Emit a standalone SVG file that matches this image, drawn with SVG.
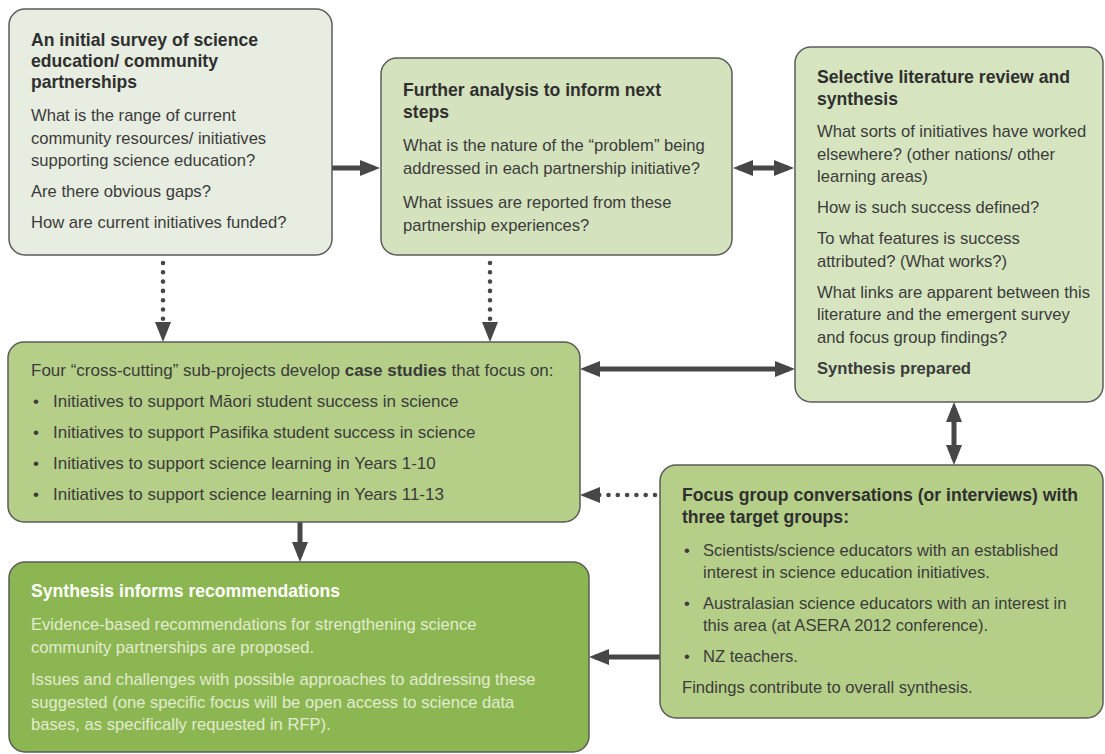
<svg xmlns="http://www.w3.org/2000/svg" width="1105" height="754" viewBox="0 0 1105 754">
<style>
.box{stroke:#5b5b5b;stroke-width:1.5}
.t{font-family:"Liberation Sans",Arial,sans-serif;font-weight:bold;font-size:19px;fill:#2f2f2f}
.b{font-family:"Liberation Sans",Arial,sans-serif;font-size:16.6px;fill:#3b3b3b}
.bb{font-weight:bold}
.w{fill:#ffffff}
.wb{fill:#e2ecd0}
.sh{stroke:#474747;stroke-width:5;fill:none}
.dt{stroke:#474747;stroke-width:4.6;stroke-linecap:round;stroke-dasharray:0 9.3;fill:none}
</style>
<defs>
<marker id="ah" viewBox="0 0 20 16" markerWidth="20" markerHeight="16" refX="14" refY="8" markerUnits="userSpaceOnUse" orient="auto-start-reverse">
<path d="M0,0 L20,8 L0,16 z" fill="#474747"/>
</marker>
</defs>
<rect width="1105" height="754" fill="#ffffff"/>

<g id="connectors">
<line class="sh" x1="332" y1="168" x2="374" y2="168" marker-end="url(#ah)"/>
<line class="sh" x1="739" y1="168" x2="788" y2="168" marker-start="url(#ah)" marker-end="url(#ah)"/>
<line class="dt" x1="163" y1="263" x2="163" y2="336" marker-end="url(#ah)"/>
<line class="dt" x1="490" y1="263" x2="490" y2="336" marker-end="url(#ah)"/>
<line class="sh" x1="586" y1="369" x2="789" y2="369" marker-start="url(#ah)" marker-end="url(#ah)"/>
<line class="sh" x1="954" y1="408" x2="954" y2="459" marker-start="url(#ah)" marker-end="url(#ah)"/>
<line class="sh" x1="300" y1="522" x2="300" y2="556" marker-end="url(#ah)"/>
<line class="dt" x1="655" y1="495" x2="586" y2="495" marker-end="url(#ah)"/>
<line class="sh" x1="660" y1="657" x2="595" y2="657" marker-end="url(#ah)"/>
</g>

<g id="node-survey">
<rect class="box" x="9" y="9" width="323" height="246" rx="16" fill="#e7ede0"/>
<text class="t" x="31" y="46" textLength="227" lengthAdjust="spacingAndGlyphs">An initial survey of science</text>
<text class="t" x="31" y="67" textLength="187" lengthAdjust="spacingAndGlyphs">education/ community</text>
<text class="t" x="31" y="88" textLength="106" lengthAdjust="spacingAndGlyphs">partnerships</text>
<text class="b" x="31" y="121">What is the range of current</text>
<text class="b" x="31" y="143.5">community resources/ initiatives</text>
<text class="b" x="31" y="166">supporting science education?</text>
<text class="b" x="31" y="197">Are there obvious gaps?</text>
<text class="b" x="31" y="228">How are current initiatives funded?</text>
</g>

<g id="node-analysis">
<rect class="box" x="381" y="58" width="351" height="197" rx="16" fill="#d4e2bd"/>
<text class="t" x="403" y="96" textLength="258" lengthAdjust="spacingAndGlyphs">Further analysis to inform next</text>
<text class="t" x="403" y="118" textLength="46" lengthAdjust="spacingAndGlyphs">steps</text>
<text class="b" x="403" y="151">What is the nature of the “problem” being</text>
<text class="b" x="403" y="173.5">addressed in each partnership initiative?</text>
<text class="b" x="403" y="208">What issues are reported from these</text>
<text class="b" x="403" y="230.5">partnership experiences?</text>
</g>

<g id="node-literature">
<rect class="box" x="795" y="47" width="308" height="355" rx="16" fill="#d6e5c0"/>
<text class="t" x="817" y="83" textLength="253" lengthAdjust="spacingAndGlyphs">Selective literature review and</text>
<text class="t" x="817" y="105" textLength="81" lengthAdjust="spacingAndGlyphs">synthesis</text>
<text class="b" x="817" y="137">What sorts of initiatives have worked</text>
<text class="b" x="817" y="159.5">elsewhere? (other nations/ other</text>
<text class="b" x="817" y="182">learning areas)</text>
<text class="b" x="817" y="213">How is such success defined?</text>
<text class="b" x="817" y="244">To what features is success</text>
<text class="b" x="817" y="266.5">attributed? (What works?)</text>
<text class="b" x="817" y="297.5">What links are apparent between this</text>
<text class="b" x="817" y="320">literature and the emergent survey</text>
<text class="b" x="817" y="342.5">and focus group findings?</text>
<text class="b bb" x="817" y="374">Synthesis prepared</text>
</g>

<g id="node-case-studies">
<rect class="box" x="8" y="342" width="572" height="180" rx="16" fill="#b5cf88"/>
<text class="b" x="31" y="376" style="font-size:17px">Four “cross-cutting” sub-projects develop <tspan class="bb">case studies</tspan> that focus on:</text>
<text class="b" x="33" y="407" style="font-size:17px">•</text>
<text class="b" x="53" y="407" style="font-size:17px">Initiatives to support Māori student success in science</text>
<text class="b" x="33" y="438" style="font-size:17px">•</text>
<text class="b" x="53" y="438" style="font-size:17px">Initiatives to support Pasifika student success in science</text>
<text class="b" x="33" y="469" style="font-size:17px">•</text>
<text class="b" x="53" y="469" style="font-size:17px">Initiatives to support science learning in Years 1-10</text>
<text class="b" x="33" y="500" style="font-size:17px">•</text>
<text class="b" x="53" y="500" style="font-size:17px">Initiatives to support science learning in Years 11-13</text>
</g>

<g id="node-focus-groups">
<rect class="box" x="660" y="465" width="443" height="253" rx="16" fill="#b5cf88"/>
<text class="t" x="682" y="501" style="font-size:18px" textLength="396" lengthAdjust="spacingAndGlyphs">Focus group conversations (or interviews) with</text>
<text class="t" x="682" y="523" textLength="167" lengthAdjust="spacingAndGlyphs">three target groups:</text>
<text class="b" x="684" y="556">•</text>
<text class="b" x="703" y="556">Scientists/science educators with an established</text>
<text class="b" x="703" y="578">interest in science education initiatives.</text>
<text class="b" x="684" y="609">•</text>
<text class="b" x="703" y="609">Australasian science educators with an interest in</text>
<text class="b" x="703" y="631">this area (at ASERA 2012 conference).</text>
<text class="b" x="684" y="662">•</text>
<text class="b" x="703" y="662">NZ teachers.</text>
<text class="b" x="682" y="693">Findings contribute to overall synthesis.</text>
</g>

<g id="node-recommendations">
<rect class="box" x="9" y="562" width="580" height="190" rx="16" fill="#8cb651"/>
<text class="t w" x="31" y="597" textLength="309" lengthAdjust="spacingAndGlyphs">Synthesis informs recommendations</text>
<text class="b wb" x="31" y="630">Evidence-based recommendations for strengthening science</text>
<text class="b wb" x="31" y="652.5">community partnerships are proposed.</text>
<text class="b wb" x="31" y="685">Issues and challenges with possible approaches to addressing these</text>
<text class="b wb" x="31" y="707.5">suggested (one specific focus will be open access to science data</text>
<text class="b wb" x="31" y="730">bases, as specifically requested in RFP).</text>
</g>
</svg>
